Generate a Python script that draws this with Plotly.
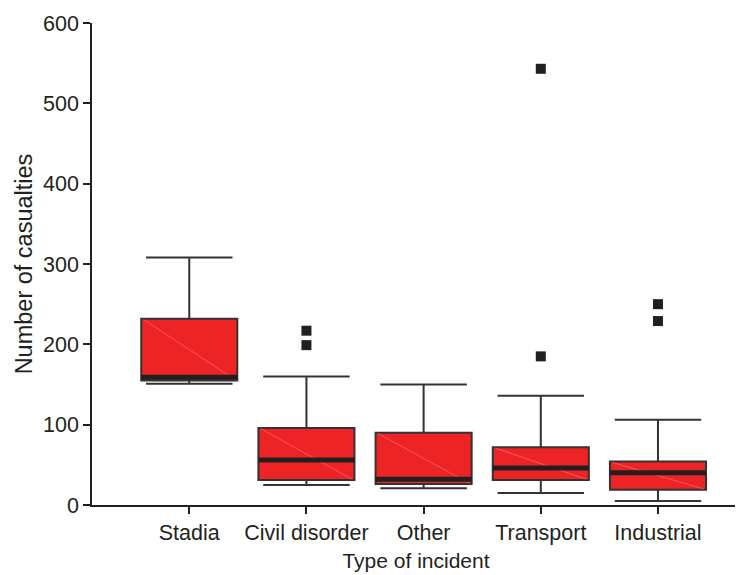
import plotly.graph_objects as go

categories = ["Stadia", "Civil disorder", "Other", "Transport", "Industrial"]
lower_whisker = [151, 25, 21, 15, 5]
q1 = [155, 31, 26, 31, 19]
median = [159, 56, 32, 46, 40]
q3 = [232, 96, 90, 72, 54]
upper_whisker = [308, 160, 150, 136, 106]
outlier_cat = ["Civil disorder", "Civil disorder", "Transport", "Transport", "Industrial", "Industrial"]
outlier_val = [217, 199, 185, 543, 250, 229]

pos = list(range(len(categories)))
idx = {c: i for i, c in enumerate(categories)}
half = 0.41
ink = "#231f20"
fam = "Liberation Sans, Arial, sans-serif"

fig = go.Figure()
fig.add_trace(go.Box(
    x=pos, q1=q1, median=median, q3=q3,
    lowerfence=lower_whisker, upperfence=upper_whisker,
    fillcolor="#ee2326", line=dict(color="#333333", width=2),
    width=2 * half, whiskerwidth=0.9, boxpoints=False, showlegend=False,
    hoverinfo="skip",
))
# faint diagonal inside boxes
for i in pos:
    fig.add_trace(go.Scatter(
        x=[i - half + 0.02, i + half - 0.02], y=[q3[i] - 1, q1[i] + 1], mode="lines",
        line=dict(color="rgba(255,160,160,0.6)", width=0.7),
        showlegend=False, hoverinfo="skip"))
# thick median bars
for i in pos:
    fig.add_trace(go.Scatter(
        x=[i - half, i + half], y=[median[i], median[i]], mode="lines",
        line=dict(color=ink, width=5), showlegend=False, hoverinfo="skip"))
fig.add_trace(go.Scatter(
    x=[idx[c] for c in outlier_cat], y=outlier_val, mode="markers",
    marker=dict(symbol="square", size=10, color=ink, line=dict(width=0)),
    showlegend=False, hoverinfo="skip"))

fig.update_layout(
    width=735, height=567,
    margin=dict(l=84, r=3, t=15, b=70),
    plot_bgcolor="white", paper_bgcolor="white",
    font=dict(family=fam, size=18, color=ink),
)
fig.update_xaxes(
    range=[-0.83, 4.7], tickvals=pos, ticktext=categories,
    tickfont=dict(family=fam, size=21.5, color=ink),
    showline=True, linecolor=ink, linewidth=1.5, ticks="outside", ticklen=7,
    tickcolor=ink, tickwidth=1.5, showgrid=False, zeroline=False,
    title=dict(text="Type of incident", standoff=10,
               font=dict(family=fam, size=21, color=ink)),
)
fig.update_yaxes(
    range=[0, 600], tickvals=[0, 100, 200, 300, 400, 500, 600],
    tickfont=dict(family=fam, size=21.5, color=ink),
    showline=True, linecolor=ink, linewidth=1.5, ticks="outside", ticklen=7,
    tickcolor=ink, tickwidth=1.5, showgrid=False, zeroline=False,
    title=dict(text="Number of casualties", standoff=4,
               font=dict(family=fam, size=23.5, color=ink)),
)
fig.write_html("out.html")
